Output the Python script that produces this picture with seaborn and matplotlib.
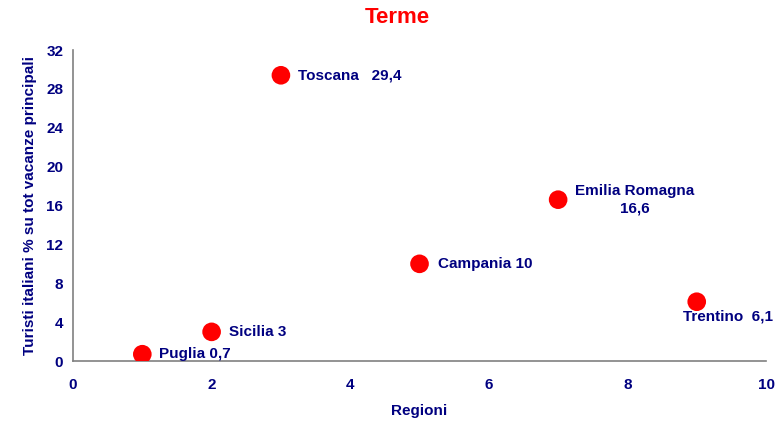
import pandas as pd
import seaborn as sns
import matplotlib.pyplot as plt

# Dati
regioni = ["Puglia", "Sicilia", "Toscana", "Campania", "Emilia Romagna", "Trentino"]
x_vals = [1, 2, 3, 5, 7, 9]
y_vals = [0.7, 3, 29.4, 10, 16.6, 6.1]
etichette = ["Puglia 0,7", "Sicilia 3", "Toscana   29,4", "Campania 10",
             "Emilia Romagna\n16,6", "Trentino  6,1"]

df = pd.DataFrame({'regione': regioni, 'x': x_vals, 'y': y_vals, 'label': etichette})

sns.set_style("white")
plt.rcParams['font.family'] = ['Liberation Sans', 'DejaVu Sans']
navy = '#000080'
grigio = '#808080'

fig = plt.figure(figsize=(7.8, 4.22), dpi=100)
ax = fig.add_axes([0.0936, 0.1445, 0.8885, 0.737])

sns.scatterplot(x='x', y='y', data=df, ax=ax, s=180, color='#ff0000',
                edgecolor='none', legend=False, zorder=3)

# Etichette dei punti (offset in pixel)
offsets = {
    "Puglia": (17, 0, 'left', 'center', 'left'),
    "Sicilia": (17, 0, 'left', 'center', 'left'),
    "Toscana": (17, 0, 'left', 'center', 'left'),
    "Campania": (18, 0, 'left', 'center', 'left'),
    "Emilia Romagna": (17, 0, 'left', 'center', 'center'),
    "Trentino": (-14, -8, 'left', 'top', 'left'),
}
for _, r in df.iterrows():
    dx, dy, ha, va, ma = offsets[r['regione']]
    ax.annotate(r['label'], (r['x'], r['y']), xytext=(dx, dy),
                textcoords='offset pixels', ha=ha, va=va, multialignment=ma,
                fontsize=11, fontweight='bold', color=navy, linespacing=1.3)

ax.set_xlim(0, 10)
ax.set_ylim(0, 32)
ax.set_xticks(range(0, 11, 2))
ax.set_yticks(range(0, 33, 4))
ax.tick_params(axis='both', direction='out', length=4, width=1, color=grigio,
               labelsize=11, labelcolor=navy, pad=3)
ax.tick_params(axis='x', pad=8)
for t in ax.get_xticklabels() + ax.get_yticklabels():
    t.set_fontweight('bold')

for s in ['top', 'right']:
    ax.spines[s].set_visible(False)
for s in ['left', 'bottom']:
    ax.spines[s].set_color(grigio)
    ax.spines[s].set_linewidth(1.2)

ax.set_xlabel('Regioni', fontsize=11, fontweight='bold', color=navy, labelpad=9)
ax.set_ylabel('Turisti italiani % su tot vacanze principali', fontsize=11,
              fontweight='bold', color=navy, labelpad=7)
fig.text(0.51, 0.958, 'Terme', ha='center', va='center', fontsize=16,
         fontweight='bold', color='#ff0000')

plt.savefig('out.png', dpi=100)
